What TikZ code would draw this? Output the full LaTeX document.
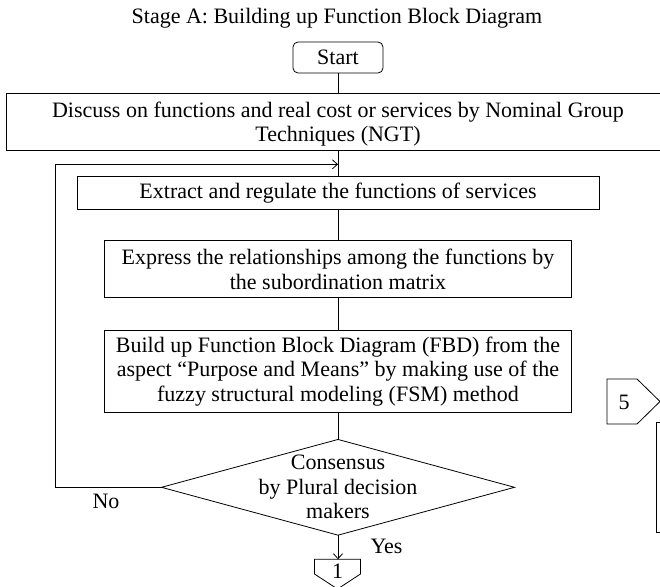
\documentclass[tikz,border=0pt]{standalone}
\usepackage{fontspec}
\setmainfont{Liberation Serif}
\usetikzlibrary{shapes.geometric,arrows.meta}
\begin{document}
\begin{tikzpicture}[x=1pt,y=-1pt,
  every node/.style={font=\fontsize{22}{24.5}\selectfont, inner sep=0pt, outer sep=0pt},
  box/.style={draw, line width=0.8pt, align=center},
  ln/.style={line width=0.8pt},
  arr/.style={ln, -{Straight Barb[length=5pt,width=9pt]}}]
\useasboundingbox (0,0) rectangle (660,586);
\clip (0,0) rectangle (660,586);
\node (title) at (337,18) {Stage A: Building up Function Block Diagram};
\node[box, rounded corners=5pt, minimum width=90pt, minimum height=31pt] (start) at (338,57.5) {Start};
\node[box, minimum width=664pt, minimum height=57pt, text depth=0pt] (discuss) at (338,121.7)
  {Discuss on functions and real cost or services by Nominal Group\\Techniques (NGT)};
\node[box, minimum width=522pt, minimum height=33pt] (extract) at (338,193.1)
  {Extract and regulate the functions of services};
\node[box, minimum width=467pt, minimum height=57pt] (express) at (338,269.2)
  {Express the relationships among the functions by\\the subordination matrix};
\node[box, minimum width=467pt, minimum height=82.3pt] (build) at (338,371.2)
  {Build up Function Block Diagram (FBD) from the\\aspect ``Purpose and Means'' by making use of the\\fuzzy structural modeling (FSM) method};
\node[draw, line width=0.8pt, shape=diamond, minimum width=353pt, minimum height=95.7pt] (dia) at (338,487.3) {};
\node[align=center] (dtext) at (338,487.3) {Consensus\\by Plural decision\\makers};
\node (no) at (106,501.5) {No};
\node (yes) at (386.5,546) {Yes};
% off-page connector 1
\draw[ln] (314.5,574) -- (314.5,559.3) -- (360.5,559.3) -- (360.5,574) -- (337.5,589) -- cycle;
\coordinate (c1top) at (338,559.3);
\node (c1) at (337.5,571.5) {1};
% off-page connector 5
\draw[ln] (607,379) -- (637,379) -- (660,401.5) -- (637,424) -- (607,424) -- cycle;
\node (c5) at (624,402) {5};
\node[box, minimum width=100pt, minimum height=110pt] (rbox) at (706,477) {};
% connectors
\coordinate (lp) at (55.7,164.3);
\coordinate (loopend) at (338,164.3);
\draw[ln] (start.south) -- (discuss.north);
\draw[ln] (discuss.south) -- (extract.north);
\draw[ln] (extract.south) -- (express.north);
\draw[ln] (express.south) -- (build.north);
\draw[ln] (build.south) -- (dia.north);
\draw[arr] (dia.west) -| (lp) -- (loopend);
\draw[arr] (dia.south) -- (c1top);
\end{tikzpicture}
\end{document}
